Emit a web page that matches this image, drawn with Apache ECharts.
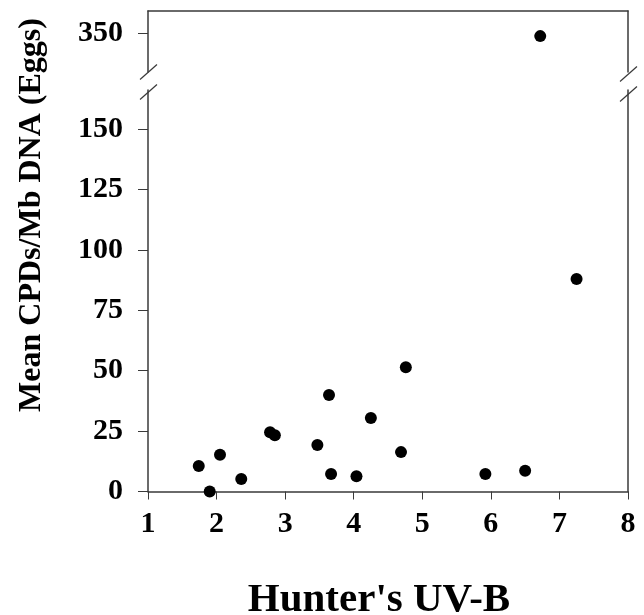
<!DOCTYPE html>
<html>
<head>
<meta charset="utf-8">
<script src="https://cdn.jsdelivr.net/npm/echarts@6/dist/echarts.min.js"></script>
<style>html,body{margin:0;padding:0;background:#fff}#c{width:644px;height:615px}</style>
</head>
<body>
<div id="c"></div>
<script>
const uvb  = [1.74, 1.90, 2.05, 2.36, 2.78, 2.85, 3.47, 3.64, 3.67, 4.04, 4.25, 4.69, 4.76, 5.92, 6.50, 7.25, 6.72];
const cpds = [10.6, 0.0, 15.2, 5.2, 24.5, 23.3, 19.2, 39.9, 7.2, 6.3, 30.4, 16.3, 51.4, 7.2, 8.6, 88.0, 349];
const xTicks = [1, 2, 3, 4, 5, 6, 7, 8];
const yTicksLow = [0, 25, 50, 75, 100, 125, 150];
const yTicksHigh = [350];
const xTitle = "Hunter's UV-B";
const yTitle = "Mean CPDs/Mb DNA (Eggs)";
const breakAt = 200;

const lowPts = [], highPts = [];
uvb.forEach((x, i) => { (cpds[i] > breakAt ? highPts : lowPts).push([x, cpds[i]]); });

const FONT = '"Liberation Serif", "DejaVu Serif", serif';
const lineCol = '#3a3a3a';
const L = 148, R = 16;
const axisLine = { show: true, lineStyle: { color: lineCol, width: 1.5 } };
const lblStyle = { color: '#000', fontFamily: FONT, fontWeight: 'bold', fontSize: 30 };

const chart = echarts.init(document.getElementById('c'), null, { renderer: 'canvas' });
const option = {
  animation: false,
  backgroundColor: '#fff',
  grid: [
    { left: L, right: R, top: 11, height: 61 },
    { left: L, right: R, top: 90, bottom: 123.5 }
  ],
  xAxis: [
    { gridIndex: 0, type: 'value', min: 1, max: 8, interval: 1, position: 'top',
      axisLine: axisLine, axisTick: { show: false }, axisLabel: { show: false }, splitLine: { show: false } },
    { gridIndex: 1, type: 'value', min: 1, max: 8, interval: 1, position: 'bottom',
      axisLine: axisLine,
      axisTick: { show: true, length: 8, lineStyle: { color: lineCol, width: 1 }, customValues: xTicks },
      axisLabel: Object.assign({ margin: 18, customValues: xTicks }, lblStyle),
      splitLine: { show: false } }
  ],
  yAxis: [
    { gridIndex: 0, type: 'value', min: 334, max: 359.5, position: 'left',
      axisLine: axisLine,
      axisTick: { show: true, length: 10, lineStyle: { color: lineCol, width: 1 }, customValues: yTicksHigh },
      axisLabel: Object.assign({ margin: 25, customValues: yTicksHigh }, lblStyle),
      splitLine: { show: false } },
    { gridIndex: 1, type: 'value', min: 0, max: 166.2, position: 'left',
      axisLine: axisLine,
      axisTick: { show: true, length: 10, lineStyle: { color: lineCol, width: 1 }, customValues: yTicksLow },
      axisLabel: Object.assign({ margin: 25, customValues: yTicksLow }, lblStyle),
      splitLine: { show: false } },
    { gridIndex: 0, type: 'value', min: 334, max: 359.5, position: 'right',
      axisLine: axisLine, axisTick: { show: false }, axisLabel: { show: false }, splitLine: { show: false } },
    { gridIndex: 1, type: 'value', min: 0, max: 166.2, position: 'right',
      axisLine: axisLine, axisTick: { show: false }, axisLabel: { show: false }, splitLine: { show: false } }
  ],
  series: [
    { type: 'scatter', xAxisIndex: 0, yAxisIndex: 0, data: highPts, symbol: 'circle', symbolSize: 12,
      itemStyle: { color: '#000', opacity: 1 } },
    { type: 'scatter', xAxisIndex: 1, yAxisIndex: 1, data: lowPts, symbol: 'circle', symbolSize: 12,
      itemStyle: { color: '#000', opacity: 1 } }
  ]
};
chart.setOption(option);

// axis-break slashes and titles
const yTopEnd = 72, yLowStart = 90;
const xl = L, xr = 644 - R;
function slash(x, yc) {
  return { type: 'line', silent: true,
    shape: { x1: x - 8, y1: yc + 7.5, x2: x + 9, y2: yc - 7.5 },
    style: { stroke: lineCol, lineWidth: 1.2 } };
}
chart.setOption({
  graphic: [
    slash(xl, yTopEnd), slash(xl, yLowStart + 2),
    slash(xr, yTopEnd + 2), slash(xr, yLowStart + 4),
    { type: 'text', silent: true, x: 379, y: 600,
      style: { text: xTitle, fill: '#000', font: 'bold 41px ' + FONT, align: 'center', verticalAlign: 'middle' } },
    { type: 'text', silent: true, x: 32, y: 215, rotation: Math.PI / 2,
      style: { text: yTitle, fill: '#000', font: 'bold 32px ' + FONT, align: 'center', verticalAlign: 'middle' } }
  ]
});
</script>
</body>
</html>
